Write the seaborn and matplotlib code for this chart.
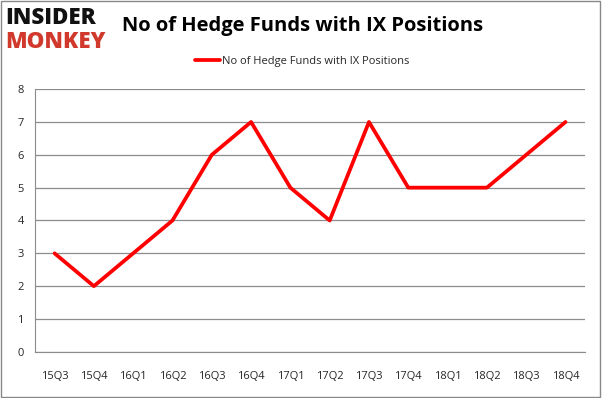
import numpy as np
import pandas as pd
import seaborn as sns
import matplotlib.pyplot as plt
from matplotlib.patches import Rectangle

# Data
quarters = ['15Q3', '15Q4', '16Q1', '16Q2', '16Q3', '16Q4', '17Q1',
            '17Q2', '17Q3', '17Q4', '18Q1', '18Q2', '18Q3', '18Q4']
funds = [3, 2, 3, 4, 6, 7, 5, 4, 7, 5, 5, 5, 6, 7]
series_name = 'No of Hedge Funds with IX Positions'

df = pd.DataFrame({'quarter': range(len(quarters)), 'funds': funds})

sns.set_style('white')
plt.rcParams['font.family'] = ['Open Sans', 'DejaVu Sans']

fig = plt.figure(figsize=(6.02, 3.98), dpi=100)
ax = fig.add_axes([0.058, 0.116, 0.914, 0.66])

sns.lineplot(data=df, x='quarter', y='funds', color='#ff0000', linewidth=2.7,
             ax=ax, label=series_name, legend=False)

ax.set_xlim(-0.5, len(quarters) - 0.5)
ax.set_ylim(0, 8)
ax.set_yticks(range(0, 9))
ax.set_xticks(range(len(quarters)))
ax.set_xticklabels(quarters, fontsize=8)
ax.set_xticks(np.arange(-0.5, len(quarters), 1), minor=True)
ax.tick_params(axis='x', which='major', length=0, pad=14)
ax.tick_params(axis='x', which='minor', length=5, color='#888888', direction='out')
ax.tick_params(axis='y', length=0, labelsize=8, pad=8)
ax.set_xlabel('')
ax.set_ylabel('')

ax.grid(axis='y', color='#8c8c8c', linewidth=0.9)
ax.set_axisbelow(True)
for s in ['top', 'right']:
    ax.spines[s].set_visible(False)
ax.spines['left'].set_color('#8c8c8c')
ax.spines['bottom'].set_color('#8c8c8c')

# Title and logo
fig.text(0.502, 0.935, series_name, ha='center', va='center',
         fontsize=14.5, fontweight='bold', color='black')
fig.text(0.008, 0.955, 'INSIDER', ha='left', va='center', fontsize=16,
         fontweight='heavy', color='#111111')
fig.text(0.008, 0.895, 'MONKEY', ha='left', va='center', fontsize=16,
         fontweight='heavy', color='#d0392b')

# Legend
fig.legend(loc='center', bbox_to_anchor=(0.502, 0.845), frameon=False,
           fontsize=8, handlelength=2.2, handletextpad=0.2)

# Border
fig.patches.append(Rectangle((0.002, 0.003), 0.995, 0.994, transform=fig.transFigure,
                             fill=False, edgecolor='#888888', linewidth=1))

plt.savefig('out.png', dpi=100)
